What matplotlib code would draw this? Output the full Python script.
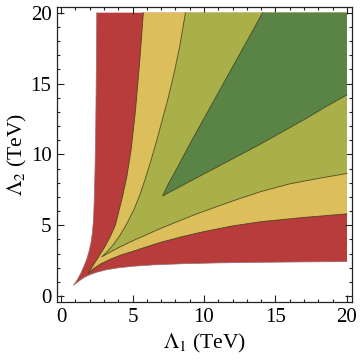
import matplotlib
matplotlib.use("Agg")
import matplotlib.pyplot as plt
from matplotlib.ticker import MultipleLocator

# Contour boundaries (Lambda1, Lambda2 in TeV).
# Each level: upper branch from top edge down to the tip, lower branch from tip to right edge.
lvl0_up_x = [2.50, 2.47, 2.43, 2.38, 2.33, 2.28, 2.20, 2.10, 1.97, 1.80, 1.60, 1.38, 1.14, 0.87]
lvl0_up_y = [20.0, 16.0, 12.0, 9.0, 7.0, 5.5, 4.5, 3.8, 3.2, 2.6, 2.1, 1.6, 1.15, 0.76]
lvl0_lo_x = [0.87, 1.20, 1.60, 2.00, 2.50, 3.20, 4.00, 5.00, 6.50, 8.50, 11.0, 14.0, 17.0, 20.0]
lvl0_lo_y = [0.76, 1.02, 1.30, 1.50, 1.68, 1.86, 1.99, 2.10, 2.20, 2.28, 2.34, 2.38, 2.41, 2.43]

lvl1_up_x = [5.76, 5.50, 5.20, 4.90, 4.60, 4.30, 4.05, 3.80, 3.45, 3.05, 2.65, 2.30, 1.90]
lvl1_up_y = [20.0, 16.5, 13.0, 10.3, 8.4, 7.0, 6.0, 5.0, 4.2, 3.45, 2.8, 2.25, 1.62]
lvl1_lo_x = [1.90, 2.30, 2.80, 3.50, 4.20, 5.00, 6.00, 7.00, 8.50, 10.0, 12.0, 14.0, 17.0, 20.0]
lvl1_lo_y = [1.62, 1.95, 2.28, 2.62, 2.90, 3.15, 3.48, 3.80, 4.20, 4.55, 4.95, 5.25, 5.55, 5.80]

lvl2_up_x = [8.70, 8.30, 7.90, 7.50, 7.10, 6.70, 6.30, 5.90, 5.50, 5.10, 4.60, 4.10, 3.60, 3.20, 2.85]
lvl2_up_y = [20.0, 17.6, 15.7, 14.0, 12.5, 11.0, 9.6, 8.3, 7.1, 6.1, 5.1, 4.25, 3.55, 3.1, 2.77]
lvl2_lo_x = [2.85, 3.40, 4.00, 4.80, 5.80, 6.80, 8.00, 9.50, 11.0, 12.5, 14.0, 16.0, 18.0, 20.0]
lvl2_lo_y = [2.77, 3.08, 3.40, 3.80, 4.25, 4.70, 5.20, 5.80, 6.35, 6.88, 7.38, 7.92, 8.30, 8.65]

lvl3_up_x = [14.1, 13.5, 12.4, 11.3, 10.2, 9.1, 8.1, 7.5, 7.1]
lvl3_up_y = [20.0, 18.9, 16.9, 14.9, 12.9, 10.9, 9.0, 7.9, 7.06]
lvl3_lo_x = [7.1, 8.0, 9.5, 11.0, 12.5, 14.0, 15.5, 17.0, 18.5, 20.0]
lvl3_lo_y = [7.06, 7.55, 8.35, 9.15, 9.95, 10.75, 11.6, 12.45, 13.35, 14.2]

levels = [
    (lvl0_up_x, lvl0_up_y, lvl0_lo_x, lvl0_lo_y),
    (lvl1_up_x, lvl1_up_y, lvl1_lo_x, lvl1_lo_y),
    (lvl2_up_x, lvl2_up_y, lvl2_lo_x, lvl2_lo_y),
    (lvl3_up_x, lvl3_up_y, lvl3_lo_x, lvl3_lo_y),
]
colors = ["#b83c3c", "#dcbe5a", "#a9b04a", "#5a8446"]
x_max, y_max = 20.0, 20.0

plt.rcParams["font.family"] = ["Liberation Serif", "DejaVu Serif"]
plt.rcParams["mathtext.fontset"] = "stix"

fig = plt.figure(figsize=(3.6, 3.6), dpi=100)
ax = fig.add_axes([57 / 360, 1 - 302 / 360, 295 / 360, 295 / 360])

for i, ((ux, uy, lx, ly), c) in enumerate(zip(levels, colors)):
    px = list(ux) + list(lx[1:]) + [x_max]
    py = list(uy) + list(ly[1:]) + [y_max]
    ax.fill(px, py, facecolor=c, edgecolor="none", zorder=1 + i)
    bx = list(ux) + list(lx[1:])
    by = list(uy) + list(ly[1:])
    if i == 0:
        ax.plot(bx, by, color="#9a6a6a", lw=0.5, zorder=1 + i)
    else:
        ax.plot(bx, by, color="#3d3a1a", lw=0.6, alpha=0.85, zorder=1 + i)

ax.set_xlim(-0.28, 20.35)
ax.set_ylim(-0.42, 20.4)

for s in ax.spines.values():
    s.set_linewidth(0.9)
    s.set_color("#222222")

ax.xaxis.set_major_locator(MultipleLocator(5))
ax.yaxis.set_major_locator(MultipleLocator(5))
ax.xaxis.set_minor_locator(MultipleLocator(1))
ax.yaxis.set_minor_locator(MultipleLocator(1))
ax.tick_params(which="both", direction="in", top=True, right=True, width=0.8, color="#222222")
ax.tick_params(which="major", length=5, labelsize=15, pad=4)
ax.tick_params(which="minor", length=2.5)

ax.set_xlabel(r"$\Lambda_1$ (TeV)", fontsize=15.5, labelpad=4)
ax.set_ylabel(r"$\Lambda_2$ (TeV)", fontsize=15.5, labelpad=1)

fig.savefig("out.png", dpi=100)
